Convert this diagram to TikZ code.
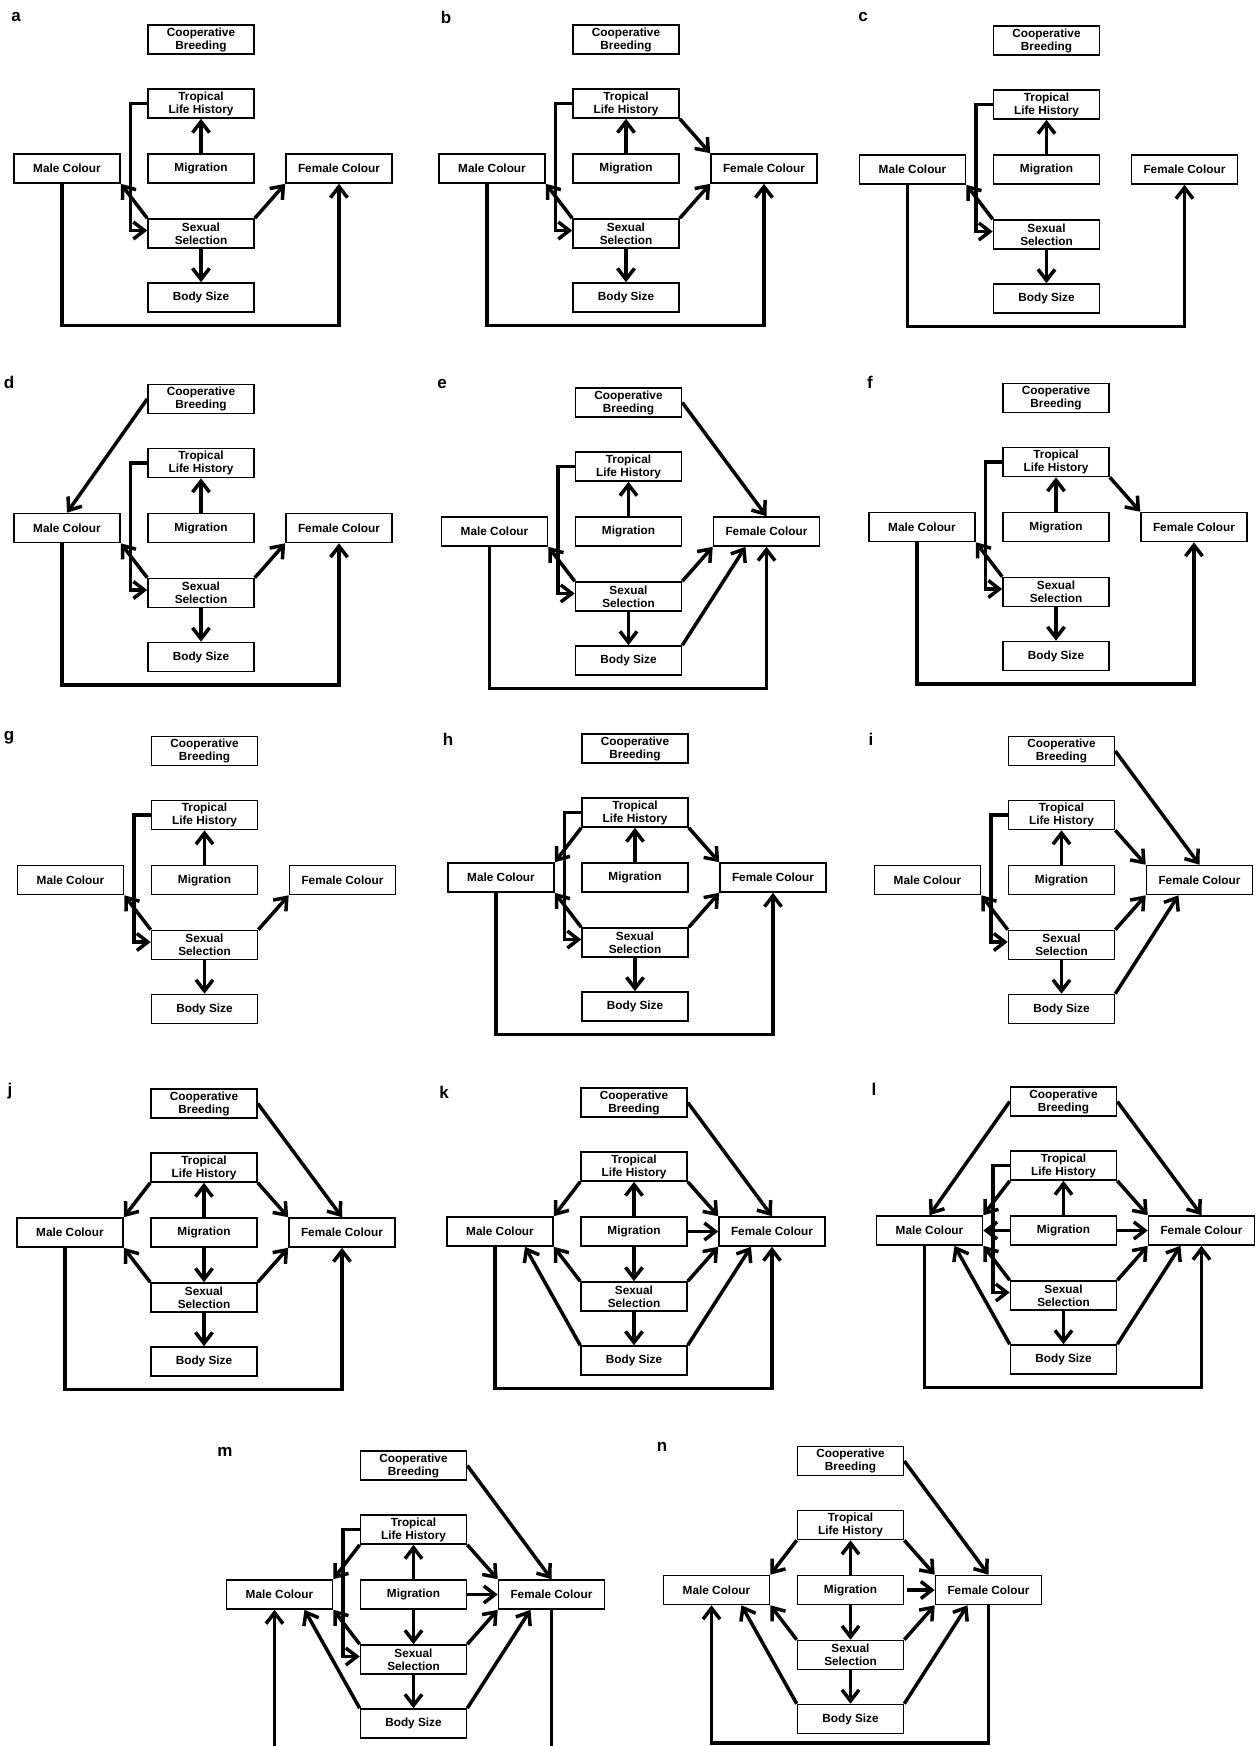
\documentclass[tikz,border=0pt]{standalone}
\usepackage{fontspec}
\setmainfont{Liberation Sans}
\usetikzlibrary{arrows.meta}

% the seven variables of one model, #1 = panel, (#2,#3) = centre of the top box
\newcommand{\modelboxes}[3]{%
  \node[var] (#1-cb) at (#2,#3)        {Cooperative\\Breeding};
  \node[var] (#1-tl) at (#2,#3+64)     {Tropical\\Life History};
  \node[var] (#1-mg) at (#2,#3+129)    {Migration};
  \node[var] (#1-ss) at (#2,#3+194)    {Sexual\\Selection};
  \node[var] (#1-bs) at (#2,#3+258)    {Body Size};
  \node[var] (#1-mc) at (#2-134,#3+129) {Male Colour};
  \node[var] (#1-fc) at (#2+138,#3+129) {Female Colour};
  \coordinate (#1-lp) at (#2,#3+286);
  \coordinate (#1-bk) at (#2-70.5,#3+191);
}

\begin{document}
\begin{tikzpicture}[x=1pt, y=-1pt,
        var/.style={rectangle, draw, line width=1.6pt, minimum width=106pt, minimum height=29pt, inner sep=0pt, align=center, font=\fontsize{11.8}{13}\selectfont\bfseries},
        arr/.style={line width=3.5pt, -{Straight Barb[length=11pt,width=17pt]}},
        tag/.style={font=\fontsize{17}{17}\selectfont\bfseries}
    ]
    \path[use as bounding box, fill=white] (0,0) rectangle (1258,1746);

    %% ---- a ----
    \node[tag] (a-tag) at (16,17) {a};
    \modelboxes{a}{201}{39.5}
    \draw[arr] (a-mg) -- (a-tl);
    \draw[arr] (a-tl.west) -| (a-bk) -- (a-bk -| a-ss.west);
    \draw[arr] (a-ss.north west) -- (a-mc.south east);
    \draw[arr] (a-ss.north east) -- (a-fc.south west);
    \draw[arr] (a-ss) -- (a-bs);
    \draw[arr] ([xshift=-5pt]a-mc.south) |- (a-lp) -| (a-fc.south);

    %% ---- b ----
    \node[tag] (b-tag) at (446,17) {b};
    \modelboxes{b}{626}{39.5}
    \draw[arr] (b-mg) -- (b-tl);
    \draw[arr] (b-tl.west) -| (b-bk) -- (b-bk -| b-ss.west);
    \draw[arr] (b-tl.south east) -- (b-fc.north west);
    \draw[arr] (b-ss.north west) -- (b-mc.south east);
    \draw[arr] (b-ss.north east) -- (b-fc.south west);
    \draw[arr] (b-ss) -- (b-bs);
    \draw[arr] ([xshift=-5pt]b-mc.south) |- (b-lp) -| (b-fc.south);

    %% ---- c ----
    \node[tag] (c-tag) at (863,17) {c};
    \modelboxes{c}{1046.5}{40.5}
    \draw[arr] (c-mg) -- (c-tl);
    \draw[arr] (c-tl.west) -| (c-bk) -- (c-bk -| c-ss.west);
    \draw[arr] (c-ss.north west) -- (c-mc.south east);
    \draw[arr] (c-ss) -- (c-bs);
    \draw[arr] ([xshift=-5pt]c-mc.south) |- (c-lp) -| (c-fc.south);

    %% ---- d ----
    \node[tag] (d-tag) at (9,382) {d};
    \modelboxes{d}{201}{399}
    \draw[arr] (d-cb.west) -- (d-mc.north);
    \draw[arr] (d-mg) -- (d-tl);
    \draw[arr] (d-tl.west) -| (d-bk) -- (d-bk -| d-ss.west);
    \draw[arr] (d-ss.north west) -- (d-mc.south east);
    \draw[arr] (d-ss.north east) -- (d-fc.south west);
    \draw[arr] (d-ss) -- (d-bs);
    \draw[arr] ([xshift=-5pt]d-mc.south) |- (d-lp) -| (d-fc.south);

    %% ---- e ----
    \node[tag] (e-tag) at (442,384) {e};
    \modelboxes{e}{628.5}{402.5}
    \draw[arr] (e-cb.east) -- (e-fc.north);
    \draw[arr] (e-mg) -- (e-tl);
    \draw[arr] (e-tl.west) -| (e-bk) -- (e-bk -| e-ss.west);
    \draw[arr] (e-ss.north west) -- (e-mc.south east);
    \draw[arr] (e-ss.north east) -- (e-fc.south west);
    \draw[arr] (e-ss) -- (e-bs);
    \draw[arr] (e-bs.north east) -- ([xshift=-21pt]e-fc.south);
    \draw[arr] ([xshift=-5pt]e-mc.south) |- (e-lp) -| (e-fc.south);

    %% ---- f ----
    \node[tag] (f-tag) at (870,382) {f};
    \modelboxes{f}{1056}{398}
    \draw[arr] (f-mg) -- (f-tl);
    \draw[arr] (f-tl.west) -| (f-bk) -- (f-bk -| f-ss.west);
    \draw[arr] (f-tl.south east) -- (f-fc.north west);
    \draw[arr] (f-ss.north west) -- (f-mc.south east);
    \draw[arr] (f-ss) -- (f-bs);
    \draw[arr] ([xshift=-5pt]f-mc.south) |- (f-lp) -| (f-fc.south);

    %% ---- g ----
    \node[tag] (g-tag) at (9,738) {g};
    \modelboxes{g}{204.5}{751}
    \draw[arr] (g-mg) -- (g-tl);
    \draw[arr] (g-tl.west) -| (g-bk) -- (g-bk -| g-ss.west);
    \draw[arr] (g-ss.north west) -- (g-mc.south east);
    \draw[arr] (g-ss.north east) -- (g-fc.south west);
    \draw[arr] (g-ss) -- (g-bs);

    %% ---- h ----
    \node[tag] (h-tag) at (448,739) {h};
    \modelboxes{h}{635}{748.5}
    \draw[arr] (h-mg) -- (h-tl);
    \draw[arr] (h-tl.west) -| (h-bk) -- (h-bk -| h-ss.west);
    \draw[arr] (h-tl.south west) -- (h-mc.north east);
    \draw[arr] (h-tl.south east) -- (h-fc.north west);
    \draw[arr] (h-ss.north west) -- (h-mc.south east);
    \draw[arr] (h-ss.north east) -- (h-fc.south west);
    \draw[arr] (h-ss) -- (h-bs);
    \draw[arr] ([xshift=-5pt]h-mc.south) |- (h-lp) -| (h-fc.south);

    %% ---- i ----
    \node[tag] (i-tag) at (871,739) {i};
    \modelboxes{i}{1061.5}{751}
    \draw[arr] (i-cb.east) -- (i-fc.north);
    \draw[arr] (i-mg) -- (i-tl);
    \draw[arr] (i-tl.west) -| (i-bk) -- (i-bk -| i-ss.west);
    \draw[arr] (i-tl.south east) -- (i-fc.north west);
    \draw[arr] (i-ss.north west) -- (i-mc.south east);
    \draw[arr] (i-ss.north east) -- (i-fc.south west);
    \draw[arr] (i-ss) -- (i-bs);
    \draw[arr] (i-bs.north east) -- ([xshift=-21pt]i-fc.south);

    %% ---- j ----
    \node[tag] (j-tag) at (10,1091) {j};
    \modelboxes{j}{204}{1103.5}
    \draw[arr] (j-cb.east) -- (j-fc.north);
    \draw[arr] (j-tl.south west) -- (j-mc.north east);
    \draw[arr] (j-tl.south east) -- (j-fc.north west);
    \draw[arr] (j-mg) -- (j-tl);
    \draw[arr] (j-mg) -- (j-ss);
    \draw[arr] (j-ss.north west) -- (j-mc.south east);
    \draw[arr] (j-ss.north east) -- (j-fc.south west);
    \draw[arr] (j-ss) -- (j-bs);
    \draw[arr] ([xshift=-5pt]j-mc.south) |- (j-lp) -| (j-fc.south);

    %% ---- k ----
    \node[tag] (k-tag) at (444,1092) {k};
    \modelboxes{k}{634}{1102.5}
    \draw[arr] (k-cb.east) -- (k-fc.north);
    \draw[arr] (k-tl.south west) -- (k-mc.north east);
    \draw[arr] (k-tl.south east) -- (k-fc.north west);
    \draw[arr] (k-mg) -- (k-tl);
    \draw[arr] (k-mg) -- (k-ss);
    \draw[arr] (k-mg) -- (k-fc);
    \draw[arr] (k-ss.north west) -- (k-mc.south east);
    \draw[arr] (k-ss.north east) -- (k-fc.south west);
    \draw[arr] (k-ss) -- (k-bs);
    \draw[arr] (k-bs.north west) -- ([xshift=25pt]k-mc.south);
    \draw[arr] (k-bs.north east) -- ([xshift=-21pt]k-fc.south);
    \draw[arr] ([xshift=-5pt]k-mc.south) |- (k-lp) -| (k-fc.south);

    %% ---- l ----
    \node[tag] (l-tag) at (874,1089) {l};
    \modelboxes{l}{1063.5}{1101.5}
    \draw[arr] (l-cb.west) -- (l-mc.north);
    \draw[arr] (l-cb.east) -- (l-fc.north);
    \draw[arr] (l-tl.south west) -- (l-mc.north east);
    \draw[arr] (l-tl.south east) -- (l-fc.north west);
    \draw[arr] (l-mg) -- (l-tl);
    \draw[arr] (l-mg) -- (l-mc);
    \draw[arr] (l-mg) -- (l-fc);
    \draw[arr] (l-tl.west) -| (l-bk) -- (l-bk -| l-ss.west);
    \draw[arr] (l-ss.north west) -- (l-mc.south east);
    \draw[arr] (l-ss.north east) -- (l-fc.south west);
    \draw[arr] (l-ss) -- (l-bs);
    \draw[arr] (l-bs.north west) -- ([xshift=25pt]l-mc.south);
    \draw[arr] (l-bs.north east) -- ([xshift=-21pt]l-fc.south);
    \draw[arr] ([xshift=-5pt]l-mc.south) |- (l-lp) -| (l-fc.south);

    %% ---- m ----
    \node[tag] (m-tag) at (225,1452) {m};
    \modelboxes{m}{413.5}{1465.5}
    \draw[arr] (m-cb.east) -- (m-fc.north);
    \draw[arr] (m-tl.south west) -- (m-mc.north east);
    \draw[arr] (m-tl.south east) -- (m-fc.north west);
    \draw[arr] (m-mg) -- (m-tl);
    \draw[arr] (m-mg) -- (m-ss);
    \draw[arr] (m-mg) -- (m-fc);
    \draw[arr] (m-tl.west) -| (m-bk) -- (m-bk -| m-ss.west);
    \draw[arr] (m-ss.north west) -- (m-mc.south east);
    \draw[arr] (m-ss.north east) -- (m-fc.south west);
    \draw[arr] (m-ss) -- (m-bs);
    \draw[arr] (m-bs.north west) -- ([xshift=25pt]m-mc.south);
    \draw[arr] (m-bs.north east) -- ([xshift=-21pt]m-fc.south);
    \draw[arr] (m-fc.south) |- (m-lp) -| ([xshift=-5pt]m-mc.south);

    %% ---- n ----
    \node[tag] (n-tag) at (662,1447) {n};
    \modelboxes{n}{850.5}{1461}
    \coordinate (n-lp) at (850.5,1743);
    \draw[arr] (n-cb.east) -- (n-fc.north);
    \draw[arr] (n-tl.south west) -- (n-mc.north east);
    \draw[arr] (n-tl.south east) -- (n-fc.north west);
    \draw[arr] (n-mg) -- (n-tl);
    \draw[arr] (n-mg) -- (n-ss);
    \draw[arr] ([xshift=3pt]n-mg.east) -- (n-fc.west);
    \draw[arr] (n-ss.north west) -- (n-mc.south east);
    \draw[arr] (n-ss.north east) -- (n-fc.south west);
    \draw[arr] (n-ss) -- (n-bs);
    \draw[arr] (n-bs.north west) -- ([xshift=25pt]n-mc.south);
    \draw[arr] (n-bs.north east) -- ([xshift=-21pt]n-fc.south);
    \draw[arr] (n-fc.south) |- (n-lp) -| ([xshift=-5pt]n-mc.south);

\end{tikzpicture}
\end{document}
